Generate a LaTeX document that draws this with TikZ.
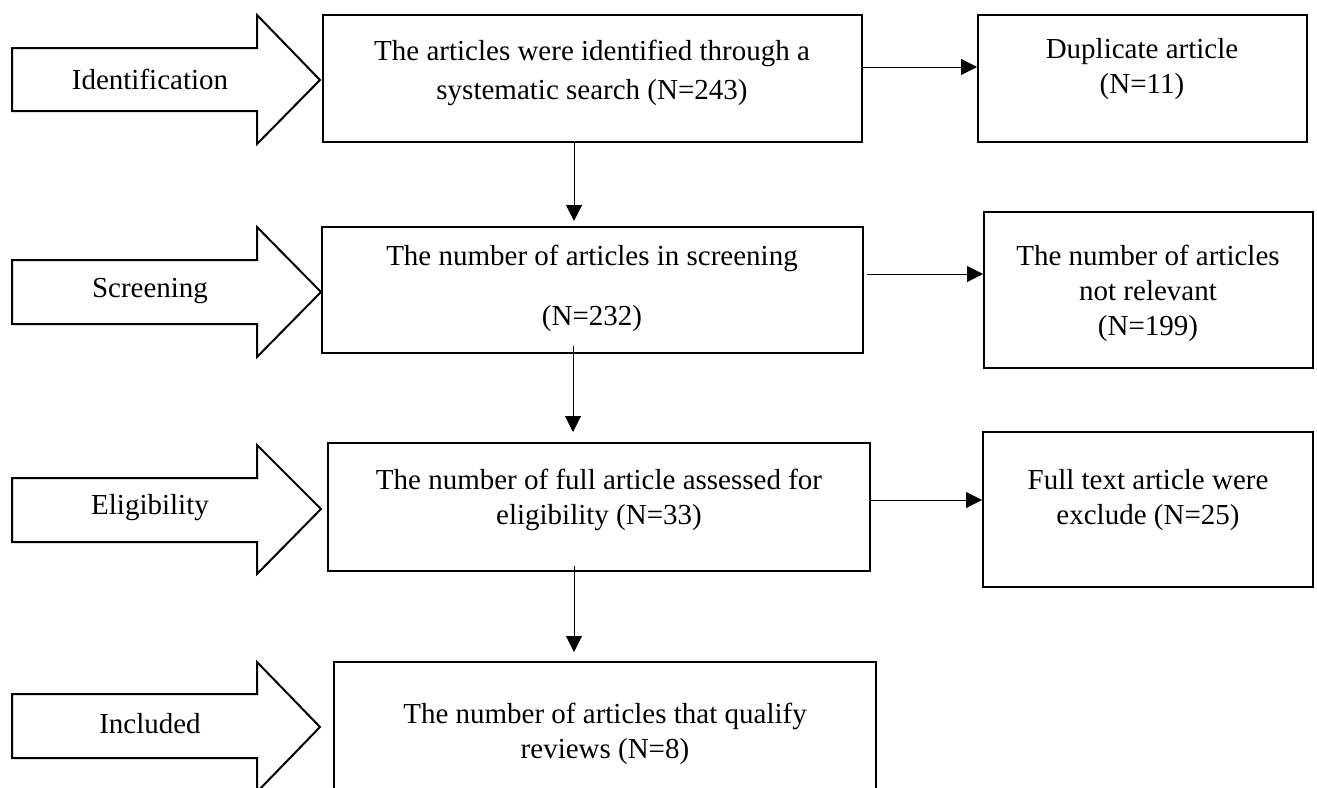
\documentclass[tikz,border=0pt]{standalone}
\usepackage{fontspec}
\setmainfont{Liberation Serif}
\usetikzlibrary{arrows.meta,fit}
\begin{document}
\begin{tikzpicture}[x=0.5pt,y=-0.5pt,
  box/.style={draw=black,line width=1pt,rectangle,inner sep=0pt},
  bigarrow/.style={draw=black,line width=1pt,fill=white,line join=miter},
  txt/.style={align=center,inner sep=0pt,font=\fontsize{14.5}{17.5}\selectfont},
  conn/.style={draw=black,line width=0.5pt,-{Triangle[length=8pt,width=8pt]}}]
\useasboundingbox (0,0) rectangle (1317,787);
\fill[white] (0,0) rectangle (1317,787);
\begin{scope}
\clip (0,0) rectangle (1317,787);
% stage arrows
\draw[bigarrow] (12,48) -- (257,48) -- (257,15) -- (320,80) -- (257,144) -- (257,111) -- (12,111) -- cycle;
\node[txt] (lid) at (150,79) {Identification};
\draw[bigarrow] (12,260) -- (257,260) -- (257,227) -- (321,292) -- (257,357) -- (257,324) -- (12,324) -- cycle;
\node[txt] (lsc) at (150,291) {Screening};
\draw[bigarrow] (12,478) -- (257,478) -- (257,445) -- (321,509) -- (257,574) -- (257,542) -- (12,542) -- cycle;
\node[txt] (lel) at (150,508) {Eligibility};
\draw[bigarrow] (12,694) -- (257,694) -- (257,662) -- (320,727) -- (257,792) -- (257,758) -- (12,758) -- cycle;
\node[txt] (lin) at (150,724) {Included};
% boxes
\node[box,fit={(323,15)(862,142)}] (box1) {};
\node[txt,font=\fontsize{14.5}{19.5}\selectfont] (box1t) at (592,73) {The articles were identified through a\\systematic search (N=243)};
\node[box,fit={(978,15)(1307,142)}] (dup) {};
\node[txt] (dupt) at (1142,69) {Duplicate article\\(N=11)};
\node[box,fit={(322,227)(863,353)}] (screen) {};
\node[txt,font=\fontsize{14.5}{30}\selectfont] (screent) at (592,288) {The number of articles in screening\\(N=232)};
\node[box,fit={(984,212)(1313,368)}] (notrel) {};
\node[txt] (notrelt) at (1148,293) {The number of articles\\not relevant\\(N=199)};
\node[box,fit={(328,443)(870,571)}] (elig) {};
\node[txt] (eligt) at (599,500) {The number of full article assessed for\\eligibility (N=33)};
\node[box,fit={(983,432)(1313,587)}] (full) {};
\node[txt] (fullt) at (1148,500) {Full text article were\\exclude (N=25)};
\node[box,fit={(334,662)(876,800)}] (incl) {};
\node[txt] (inclt) at (605,734) {The number of articles that qualify\\reviews (N=8)};
% connector guides
\coordinate (vx1) at (574,0);
\coordinate (vx2) at (573,0);
\coordinate (hy1) at (0,67);
\coordinate (hy2) at (0,274);
\coordinate (hy3) at (0,500);
% connectors
\draw[conn,shorten >=2.5pt] (box1.south -| vx1) -- (screen.north -| vx1);
\draw[conn,shorten <=-4pt,shorten >=5pt] (screen.south -| vx2) -- (elig.north -| vx2);
\draw[conn,shorten <=-3pt,shorten >=4.5pt] (elig.south -| vx1) -- (incl.north -| vx1);
\draw[conn] (box1.east |- hy1) -- (dup.west |- hy1);
\draw[conn,shorten <=1.5pt] (screen.east |- hy2) -- (notrel.west |- hy2);
\draw[conn] (elig.east |- hy3) -- (full.west |- hy3);
\end{scope}
\end{tikzpicture}
\end{document}
